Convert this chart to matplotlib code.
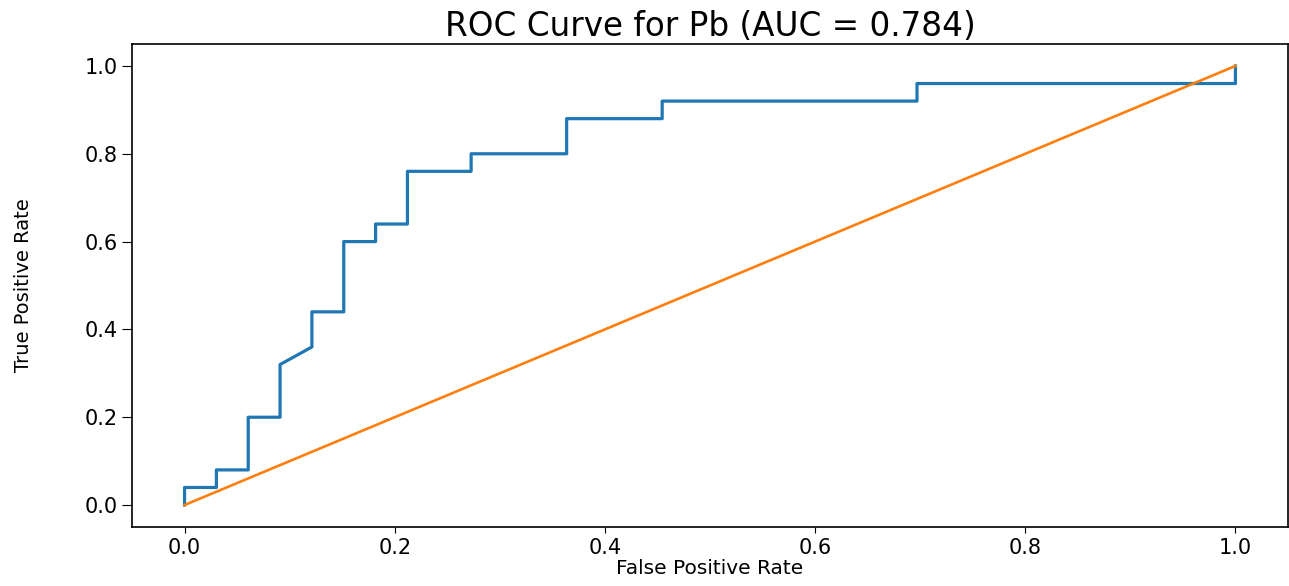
import matplotlib

matplotlib.use("Agg")
import matplotlib.pyplot as plt

# ROC points (false positive rate, true positive rate) for the Pb classifier
fpr = [0.0, 0.0, 0.0303, 0.0303, 0.0606, 0.0606, 0.0909, 0.0909, 0.1212, 0.1212,
       0.1515, 0.1515, 0.1818, 0.1818, 0.2121, 0.2121, 0.2727, 0.2727, 0.3636, 0.3636,
       0.4545, 0.4545, 0.6970, 0.6970, 1.0, 1.0]
tpr = [0.0, 0.04, 0.04, 0.08, 0.08, 0.20, 0.20, 0.32, 0.36, 0.44,
       0.44, 0.60, 0.60, 0.64, 0.64, 0.76, 0.76, 0.80, 0.80, 0.88,
       0.88, 0.92, 0.92, 0.96, 0.96, 1.0]
chance = [0.0, 1.0]
auc_value = 0.784
target = "Pb"

plt.rcParams["font.family"] = "DejaVu Sans"
plt.rcParams["xtick.major.size"] = 4.5
plt.rcParams["ytick.major.size"] = 7.0
plt.rcParams["axes.linewidth"] = 1.2

fig, ax = plt.subplots(figsize=(12.89, 5.86), dpi=100)
fig.subplots_adjust(left=0.1024, right=0.9992, bottom=0.1007, top=0.9249)

ax.plot(fpr, tpr, color="tab:blue", linewidth=2.3)
ax.plot(chance, chance, color="tab:orange", linewidth=1.9)

ax.set_title(f"ROC Curve for {target} (AUC = {auc_value:.3f})", fontsize=23.5, pad=6)
ax.set_xlabel("False Positive Rate", fontsize=14.5, labelpad=1)
ax.set_ylabel("True Positive Rate", fontsize=14)
ax.yaxis.set_label_coords(-0.086, 0.5)
ax.tick_params(labelsize=15)
ax.set_xticks([0.0, 0.2, 0.4, 0.6, 0.8, 1.0])
ax.set_yticks([0.0, 0.2, 0.4, 0.6, 0.8, 1.0])

fig.savefig("out.png", dpi=100)
plt.close(fig)
